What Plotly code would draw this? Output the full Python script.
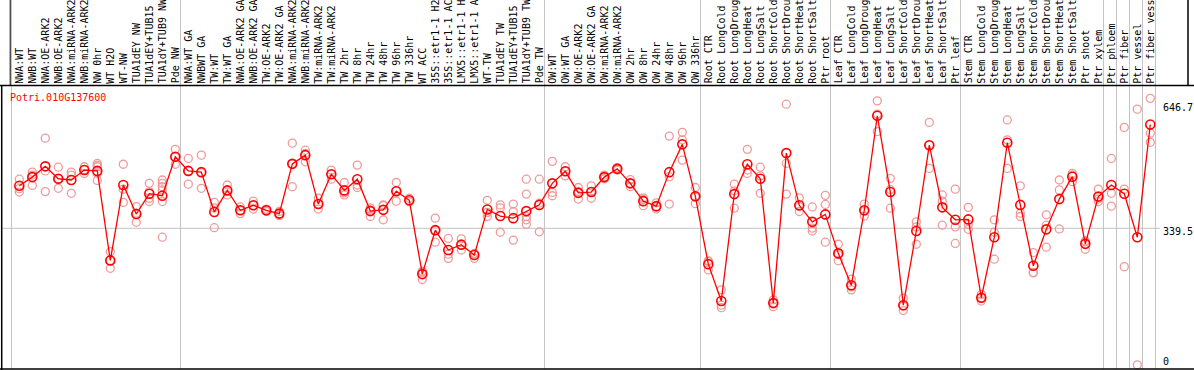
import plotly.graph_objects as go

# ---------------- data ----------------
samples = [
    "NWA:WT", "NWB:WT", "NWA:OE-ARK2", "NWB:OE-ARK2", "NWA:miRNA-ARK2", "NWB:miRNA-ARK2",
    "NW 0hr", "WT H2O", "WT-NW", "TUA1dEY NW", "TUA1dEY+TUB15 NW", "TUA1dY+TUB9 NW", "Pde NW",
    "NWA:WT GA", "NWBWT GA", "TW:WT", "TW:WT GA", "NWA:OE-ARK2 GA", "NWB:OE-ARK2 GA",
    "TW:OE-ARK2", "TW:OE-ARK2 GA", "NWA:miRNA-ARK2 GA", "NWB:miRNA-ARK2 GA", "TW:miRNA-ARK2",
    "TW:miRNA-ARK2 GA", "TW 2hr", "TW 8hr", "TW 24hr", "TW 48hr", "TW 96hr", "TW 336hr",
    "WT ACC", "35S::etr1-1 H2O", "35S::etr1-1 ACC", "LMX5::etr1-1 H2O", "LMX5::etr1-1 ACC",
    "WT-TW", "TUA1dEY TW", "TUA1dEY+TUB15 TW", "TUA1dY+TUB9 TW", "Pde TW",
    "OW:WT", "OW:WT GA", "OW:OE-ARK2", "OW:OE-ARK2 GA", "OW:miRNA-ARK2", "OW:miRNA-ARK2 GA",
    "OW 2hr", "OW 8hr", "OW 24hr", "OW 48hr", "OW 96hr", "OW 336hr",
    "Root CTR", "Root LongCold", "Root LongDrought", "Root LongHeat", "Root LongSalt",
    "Root ShortCold", "Root ShortDrought", "Root ShortHeat", "Root ShortSalt", "Ptr root",
    "Leaf CTR", "Leaf LongCold", "Leaf LongDrought", "Leaf LongHeat", "Leaf LongSalt",
    "Leaf ShortCold", "Leaf ShortDrought", "Leaf ShortHeat", "Leaf ShortSalt", "Ptr leaf",
    "Stem CTR", "Stem LongCold", "Stem LongDrought", "Stem LongHeat", "Stem LongSalt",
    "Stem ShortCold", "Stem ShortDrought", "Stem ShortHeat", "Stem ShortSalt", "Ptr shoot",
    "Ptr xylem", "Ptr phloem", "Ptr fiber", "Ptr vessel", "Ptr fiber vessel",
]

mean_values = [
    442, 463, 489, 459, 456, 480, 478, 262, 444, 374, 423, 418, 512,
    478, 475, 379, 431, 383, 395, 383, 375, 495, 516, 398, 470, 431, 458, 381, 384, 429, 407,
    229, 335, 287, 300, 275, 385, 369, 364, 381, 396,
    448, 477, 425, 427, 463, 483, 448, 405, 393, 475, 542, 417,
    253, 164, 422, 494, 459, 159, 521, 395, 355, 373,
    279, 202, 383, 611, 427, 154, 333, 540, 390, 360,
    361, 172, 318, 546, 396, 249, 337, 410, 464, 302,
    416, 444, 423, 318, 590,
]

replicate_values = [
    [458, 435, 427], [475, 468, 443], [557, 478, 428], [487, 436, 459], [475, 424, 468],
    [488, 472, 481], [496, 492, 488, 472, 455], [283, 243, 262], [494, 434, 402],
    [392, 354, 376], [448, 412, 404, 428], [456, 448, 440, 432, 404, 318], [530, 494, 511],
    [508, 446, 478], [516, 436, 474], [402, 389, 341], [444, 420, 430], [391, 375, 383],
    [405, 386, 395], [386, 380, 383], [380, 370, 374], [545, 440, 495], [528, 500, 520],
    [412, 386, 398], [480, 458, 470], [450, 420, 425], [492, 444, 438], [389, 368, 384],
    [394, 360, 396], [450, 405, 430], [412, 405, 404], [236, 216, 234], [364, 306, 334],
    [315, 277, 267], [314, 287, 299], [279, 267, 278], [407, 378, 368], [396, 389, 330],
    [398, 380, 311], [458, 422, 368, 360, 349], [458, 331, 400], [501, 426, 418],
    [488, 466, 477], [438, 410, 428], [442, 412, 428], [468, 459, 463], [486, 482, 480],
    [457, 440, 448], [413, 394, 409], [401, 386, 391], [562, 464, 398], [571, 553, 504],
    [438, 399, 415], [261, 239, 260], [191, 148, 154], [446, 430, 388], [530, 472, 480],
    [487, 466, 424], [167, 150, 159], [639, 496, 422], [413, 380, 392], [391, 333, 340],
    [419, 397, 306], [301, 261, 276], [217, 191, 198], [398, 369, 381], [647, 615, 573],
    [460, 388, 433], [171, 141, 152], [355, 343, 301], [595, 484, 540], [420, 405, 347],
    [434, 343, 303], [390, 349, 337], [180, 164, 172], [360, 330, 265], [601, 484, 553],
    [442, 376, 368], [281, 232, 233], [372, 347, 294], [456, 432, 338], [472, 452, 468],
    [309, 289, 307], [434, 404, 410], [508, 424, 393], [583, 434, 247], [627, 10],
    [653, 569, 547],
]

gene_id = "Potri.010G137600"
axis_labels = ["646.7", "339.5", "0"]
mean_line_value = 339.5
group_end_index = [12, 40, 52, 62, 72, 83, 84, 85, 86, 87]
LABEL_CHARS = 14  # the label strip only shows this many characters

# ---------------- figure ----------------
W, H = 1194, 370
PX_PER_X = 13.0
X0_PX = 19.3
UNITS_PER_PX = 2.4129
x_range = [-X0_PX / PX_PER_X, (W - X0_PX) / PX_PER_X]
y_range = [-1 * UNITS_PER_PX, (H - 1) * UNITS_PER_PX]

def py(pix):  # pixel row -> paper y
    return 1 - pix / H

def px(pix):  # pixel col -> paper x
    return pix / W

idx = list(range(len(samples)))
rep_x, rep_y = [], []
for i, reps in enumerate(replicate_values):
    for v in reps:
        rep_x.append(i)
        rep_y.append(v)

fig = go.Figure()
fig.add_trace(go.Scatter(
    x=rep_x, y=rep_y, mode="markers",
    marker=dict(symbol="circle-open", size=8, color="#f09a9a", line=dict(width=1.3, color="#f09a9a")),
    hoverinfo="skip", showlegend=False,
))
fig.add_trace(go.Scatter(
    x=idx, y=mean_values, mode="lines+markers",
    line=dict(color="#ff0000", width=1.3),
    marker=dict(symbol="circle-open", size=9, color="#ff0000", line=dict(width=1.6, color="#ee0000")),
    text=samples, showlegend=False,
))

shapes = []
gray = "#c4c4c4"
for gx in [-0.6] + [g + 0.4 for g in group_end_index]:
    shapes.append(dict(type="line", xref="x", yref="paper", x0=gx, x1=gx, y0=py(369), y1=1,
                       line=dict(color=gray, width=1), layer="below"))
shapes.append(dict(type="line", xref="paper", yref="y", x0=px(2), x1=px(1160),
                   y0=mean_line_value, y1=mean_line_value, line=dict(color=gray, width=1), layer="below"))
shapes.append(dict(type="line", xref="paper", yref="paper", x0=0, x1=1, y0=py(85.5), y1=py(85.5),
                   line=dict(color="black", width=1.5)))
shapes.append(dict(type="line", xref="paper", yref="paper", x0=px(1.7), x1=px(1.7), y0=py(85.5), y1=py(370),
                   line=dict(color="black", width=1.5)))
shapes.append(dict(type="line", xref="paper", yref="paper", x0=0, x1=1, y0=py(369), y1=py(369),
                   line=dict(color="black", width=1.5)))
shapes.append(dict(type="line", xref="paper", yref="paper", x0=px(10.2), x1=px(10.2), y0=py(0), y1=py(85.5),
                   line=dict(color="black", width=1)))
shapes.append(dict(type="line", xref="paper", yref="paper", x0=px(1188), x1=px(1188), y0=py(0), y1=py(85.5),
                   line=dict(color="black", width=1.5)))

annotations = []
mono = "DejaVu Sans Mono"
for i, name in enumerate(samples):
    annotations.append(dict(
        x=i, y=py(84.5), xref="x", yref="paper", text=name[:LABEL_CHARS], textangle=-90,
        showarrow=False, xanchor="center", yanchor="bottom",
        font=dict(family=mono, size=10, color="black"), borderpad=0,
    ))
annotations.append(dict(x=px(9), y=py(97.5), xref="paper", yref="paper", text=gene_id,
                        showarrow=False, xanchor="left", yanchor="middle",
                        font=dict(family=mono, size=10, color="#ff0000"), borderpad=0))
label_rows = [107.5, 231.5, 361.5]
for t, r in zip(axis_labels, label_rows):
    annotations.append(dict(x=px(1162), y=py(r), xref="paper", yref="paper", text=t,
                            showarrow=False, xanchor="left", yanchor="middle",
                            font=dict(family=mono, size=10, color="black"), borderpad=0))

fig.update_layout(
    width=W, height=H, margin=dict(l=0, r=0, t=0, b=0),
    paper_bgcolor="white", plot_bgcolor="white",
    xaxis=dict(range=x_range, visible=False, domain=[0, 1]),
    yaxis=dict(range=y_range, visible=False, domain=[0, 1]),
    shapes=shapes, annotations=annotations,
)
fig.write_html(
    "out.html",
    config={"displayModeBar": False},
    post_script="document.body.style.margin='0';document.body.style.overflow='hidden';",
)
